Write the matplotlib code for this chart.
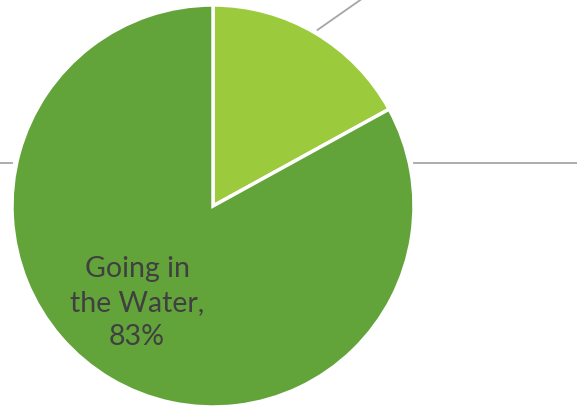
import numpy as np
import matplotlib.pyplot as plt
from matplotlib import rcParams

rcParams['font.family'] = ['Lato', 'DejaVu Sans']

# data
labels = ['Not Going in the Water', 'Going in the Water']
shares = [17, 83]
colors = ['#9BCB3C', '#62A43A']

W, H = 577, 410
fig = plt.figure(figsize=(W / 100, H / 100), dpi=100)
ax = fig.add_axes([0, 0, 1, 1])

cx, cy, r = 213, 203, 201
wedges, _ = ax.pie(shares, colors=colors, startangle=90, counterclock=False,
                   center=(cx, cy), radius=r, frame=True,
                   wedgeprops=dict(edgecolor='white', linewidth=2.5))
ax.set_xlim(0, W)
ax.set_ylim(0, H)
ax.set_aspect('equal')
ax.axis('off')

# leader line for the small slice (its label sits outside the crop)
w0 = wedges[0]
mid = np.deg2rad((w0.theta1 + w0.theta2) / 2)
x0, y0 = cx + 1.015 * r * np.cos(mid), cy + 1.015 * r * np.sin(mid)
ax.plot([x0, x0 + 70], [y0, y0 + 49], color='#A6A6A6', lw=1.3,
        solid_capstyle='butt')

# horizontal guide lines
ax.plot([414, W], [246, 246], color='#A6A6A6', lw=1.3)
ax.plot([0, 12], [246, 246], color='#A6A6A6', lw=1.3)

# label inside the big slice
ax.text(137, 107, f'Going in\nthe Water,\n{shares[1]}%', ha='center', va='center',
        fontsize=20.5, color='#404040', linespacing=1.38)

fig.savefig('out.png', dpi=100)
